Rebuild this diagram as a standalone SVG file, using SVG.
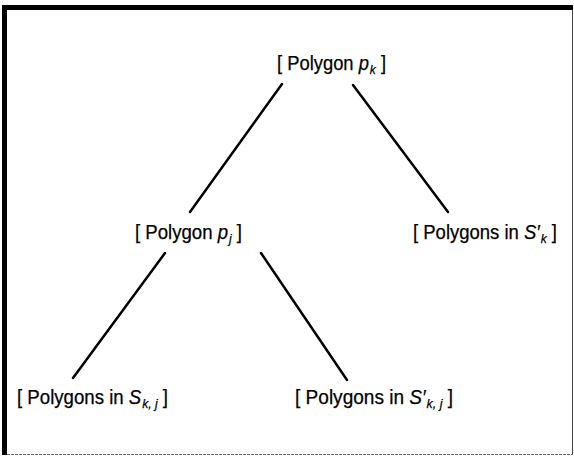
<svg xmlns="http://www.w3.org/2000/svg" width="574" height="457" viewBox="0 0 574 457">
<style>
.lbl{font-family:"Liberation Sans Narrow","Liberation Sans",Arial,sans-serif;font-size:20px;fill:#000;stroke:#000;stroke-width:0.25}
.it{font-style:italic}
.sub{font-size:13px;font-style:italic}
.edge{stroke:#000;stroke-width:2.5;stroke-linecap:round;fill:none}
</style>
<rect x="0" y="0" width="574" height="457" fill="#fff"/>
<g id="frame">
<rect x="2" y="5" width="571" height="5" fill="#000"/>
<rect x="2" y="5" width="5" height="450" fill="#000"/>
<line x1="572.5" y1="10" x2="572.5" y2="455" stroke="#444" stroke-width="1"/>
<line x1="7" y1="454.5" x2="573" y2="454.5" stroke="#666" stroke-width="1" stroke-dasharray="3 1"/>
</g>
<g id="connectors">
<line class="edge" x1="282" y1="84" x2="190" y2="212"/>
<line class="edge" x1="353" y1="85" x2="448" y2="212"/>
<line class="edge" x1="165" y1="253" x2="73" y2="378"/>
<line class="edge" x1="261" y1="253" x2="347" y2="380"/>
</g>
<g id="n-pk"><text class="lbl" x="277" y="70" textLength="109" lengthAdjust="spacingAndGlyphs">[ Polygon <tspan class="it">p</tspan><tspan class="sub" dx="1" dy="4">k</tspan><tspan dy="-4"> ]</tspan></text></g>
<g id="n-pj"><text class="lbl" x="135" y="239" textLength="107" lengthAdjust="spacingAndGlyphs">[ Polygon <tspan class="it">p</tspan><tspan class="sub" dx="1" dy="4">j</tspan><tspan dy="-4"> ]</tspan></text></g>
<g id="n-sk"><text class="lbl" x="413" y="239" textLength="144" lengthAdjust="spacingAndGlyphs">[ Polygons in <tspan class="it">S′</tspan><tspan class="sub" dx="1" dy="4">k</tspan><tspan dy="-4"> ]</tspan></text></g>
<g id="n-skj"><text class="lbl" x="17" y="404" textLength="151" lengthAdjust="spacingAndGlyphs">[ Polygons in <tspan class="it">S</tspan><tspan class="sub" dx="1" dy="4">k, j</tspan><tspan dy="-4"> ]</tspan></text></g>
<g id="n-s2kj"><text class="lbl" x="295" y="404" textLength="158" lengthAdjust="spacingAndGlyphs">[ Polygons in <tspan class="it">S′</tspan><tspan class="sub" dx="1" dy="4">k, j</tspan><tspan dy="-4"> ]</tspan></text></g>
</svg>
